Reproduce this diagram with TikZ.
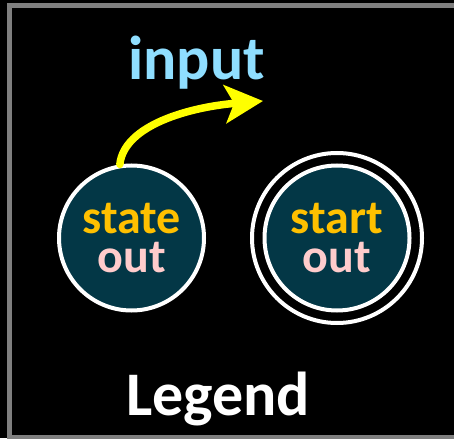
\documentclass[tikz,border=0pt]{standalone}
\usepackage{fontspec}
\setmainfont{Carlito}
\usetikzlibrary{arrows.meta}
\definecolor{bordergray}{RGB}{127,127,127}
\definecolor{statefill}{RGB}{3,55,70}
\definecolor{outcol}{RGB}{255,204,204}
\definecolor{namecol}{RGB}{255,192,0}
\definecolor{inputcol}{RGB}{143,222,255}
\definecolor{arrowcol}{RGB}{255,255,0}
\tikzset{
  statenode/.style={circle, draw=white, line width=4pt, fill=statefill,
    minimum size=145pt, inner sep=0pt, align=center,
    font=\bfseries\fontsize{48}{39}\selectfont},
  ring/.style={draw=white, line width=4pt},
  frame/.style={draw=bordergray, line width=5pt},
  bigtext/.style={font=\bfseries\fontsize{62}{62}\selectfont, anchor=base, inner sep=0pt},
  inarrow/.style={draw=arrowcol, line width=7.5pt, line cap=round,
    -{Stealth[length=38pt, width=38pt, inset=9pt]}}
}
\begin{document}
\begin{tikzpicture}[x=1pt,y=-1pt]
\useasboundingbox[fill=black] (0,0) rectangle (454,438);
\begin{scope}
\clip (0,0) rectangle (454,438);
\draw[frame] (9.2,5.8) rectangle (480,437.5);
\end{scope}
\node[statenode] (state) at (131.5,238) {\textcolor{namecol}{state}\\\textcolor{outcol}{out}};
\node[statenode] (start) at (337,238) {\textcolor{namecol}{start}\\\textcolor{outcol}{out}};
\draw[ring] (start.center) circle[radius=85];
\node[bigtext, text=inputcol] (input) at (196.5,80) {input};
\node[bigtext, text=white] (legend) at (218,415) {Legend};
\coordinate (tip) at (263,101);
\draw[inarrow] (state.99) .. controls (124,125) and (190,107) .. (tip);
\end{tikzpicture}
\end{document}
